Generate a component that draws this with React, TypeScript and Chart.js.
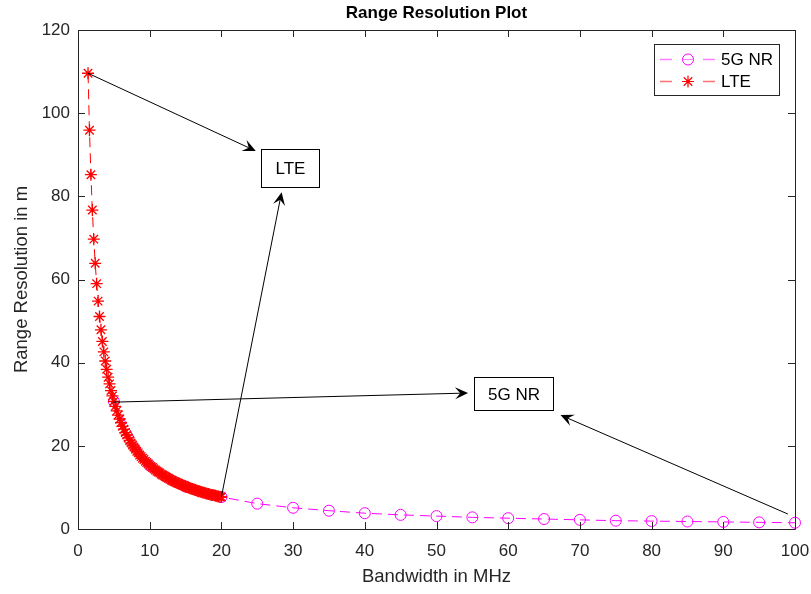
import React, { useEffect, useRef } from 'react';
import { Chart, registerables } from 'chart.js';

Chart.register(...registerables);

// ---------- data ----------
const lteBandwidth = [
  1.4, 1.6, 1.8, 2.0, 2.2, 2.4, 2.6, 2.8, 3.0, 3.2, 3.4, 3.6, 3.8, 4.0, 4.2, 4.4, 4.6, 4.8,
  5.0, 5.2, 5.4, 5.6, 5.8, 6.0, 6.2, 6.4, 6.6, 6.8, 7.0, 7.2, 7.4, 7.6, 7.8, 8.0, 8.2, 8.4,
  8.6, 8.8, 9.0, 9.2, 9.4, 9.6, 9.8, 10.0, 10.2, 10.4, 10.6, 10.8, 11.0, 11.2, 11.4, 11.6,
  11.8, 12.0, 12.2, 12.4, 12.6, 12.8, 13.0, 13.2, 13.4, 13.6, 13.8, 14.0, 14.2, 14.4, 14.6,
  14.8, 15.0, 15.2, 15.4, 15.6, 15.8, 16.0, 16.2, 16.4, 16.6, 16.8, 17.0, 17.2, 17.4, 17.6,
  17.8, 18.0, 18.2, 18.4, 18.6, 18.8, 19.0, 19.2, 19.4, 19.6, 19.8, 20.0,
];
const lteResolution = [
  109.6, 95.9, 85.2, 76.7, 69.7, 63.9, 59.0, 54.8, 51.1, 47.9, 45.1, 42.6, 40.4, 38.4, 36.5,
  34.9, 33.3, 32.0, 30.7, 29.5, 28.4, 27.4, 26.4, 25.6, 24.7, 24.0, 23.2, 22.6, 21.9, 21.3,
  20.7, 20.2, 19.7, 19.2, 18.7, 18.3, 17.8, 17.4, 17.0, 16.7, 16.3, 16.0, 15.7, 15.3, 15.0,
  14.8, 14.5, 14.2, 13.9, 13.7, 13.5, 13.2, 13.0, 12.8, 12.6, 12.4, 12.2, 12.0, 11.8, 11.6,
  11.4, 11.3, 11.1, 11.0, 10.8, 10.7, 10.5, 10.4, 10.2, 10.1, 10.0, 9.8, 9.7, 9.6, 9.5, 9.4,
  9.2, 9.1, 9.0, 8.9, 8.8, 8.7, 8.6, 8.5, 8.4, 8.3, 8.2, 8.2, 8.1, 8.0, 7.9, 7.8, 7.7, 7.7,
];
const nrBandwidth = [5, 10, 15, 20, 25, 30, 35, 40, 45, 50, 55, 60, 65, 70, 75, 80, 85, 90, 95, 100];
const nrResolution = [
  30.7, 15.3, 10.2, 7.7, 6.1, 5.1, 4.4, 3.8, 3.4, 3.1, 2.8, 2.6, 2.4, 2.2, 2.0, 1.9, 1.8, 1.7,
  1.6, 1.5,
];
const xTicks = [0, 10, 20, 30, 40, 50, 60, 70, 80, 90, 100];
const yTicks = [0, 20, 40, 60, 80, 100, 120];
const seriesNames = ['5G NR', 'LTE'];
const titleText = 'Range Resolution Plot';
const xTitle = 'Bandwidth in MHz';
const yTitle = 'Range Resolution in m';

// annotations in data coordinates
const arrowTails = [[1.4, 109.6], [20, 7.7], [4.85, 30.5], [99.0, 3.6]];
const arrowHeads = [[24.8, 90.9], [28.4, 81.0], [54.4, 32.7], [67.3, 27.4]];
const boxLabels = ['LTE', '5G NR'];
const boxXRanges = [[25.5, 33.6], [55.2, 66.3]];
const boxYRanges = [[82.3, 91.4], [28.6, 36.6]];

const AXIS_COLOR = '#262626';
const FONT = '"Liberation Sans", Arial, Helvetica, sans-serif';
const NR_COLOR = '#FF00FF';
const LTE_COLOR = '#FF0000';

function drawArrow(ctx: CanvasRenderingContext2D, x0: number, y0: number, x1: number, y1: number) {
  const dx = x1 - x0;
  const dy = y1 - y0;
  const len = Math.hypot(dx, dy);
  const ux = dx / len;
  const uy = dy / len;
  const nx = -uy;
  const ny = ux;
  const L = 13;
  const W = 6;
  ctx.save();
  ctx.strokeStyle = '#000';
  ctx.fillStyle = '#000';
  ctx.lineWidth = 1;
  ctx.beginPath();
  ctx.moveTo(x0, y0);
  ctx.lineTo(x1 - ux * L * 0.6, y1 - uy * L * 0.6);
  ctx.stroke();
  ctx.beginPath();
  ctx.moveTo(x1, y1);
  ctx.lineTo(x1 - ux * L + nx * W, y1 - uy * L + ny * W);
  ctx.lineTo(x1 - ux * L * 0.6, y1 - uy * L * 0.6);
  ctx.lineTo(x1 - ux * L - nx * W, y1 - uy * L - ny * W);
  ctx.closePath();
  ctx.fill();
  ctx.restore();
}

const decorPlugin = {
  id: 'matlabDecor',
  afterDatasetsDraw(chart: any) {
    const { ctx, chartArea, scales } = chart;
    const { left, right, top, bottom } = chartArea;
    const xs = scales.x;
    const ys = scales.y;
    ctx.save();

    // frame
    ctx.strokeStyle = AXIS_COLOR;
    ctx.lineWidth = 1;
    ctx.beginPath();
    ctx.rect(Math.round(left) + 0.5, Math.round(top) + 0.5, Math.round(right - left), Math.round(bottom - top));
    ctx.stroke();

    // inward ticks
    const tl = 7;
    ctx.beginPath();
    xTicks.forEach((t) => {
      const px = Math.round(xs.getPixelForValue(t)) + 0.5;
      ctx.moveTo(px, bottom);
      ctx.lineTo(px, bottom - tl);
      ctx.moveTo(px, top);
      ctx.lineTo(px, top + tl);
    });
    yTicks.forEach((t) => {
      const py = Math.round(ys.getPixelForValue(t)) + 0.5;
      ctx.moveTo(left, py);
      ctx.lineTo(left + tl, py);
      ctx.moveTo(right, py);
      ctx.lineTo(right - tl, py);
    });
    ctx.stroke();

    // title
    ctx.fillStyle = '#000';
    ctx.font = `bold 17px ${FONT}`;
    ctx.textAlign = 'center';
    ctx.textBaseline = 'middle';
    ctx.fillText(titleText, (left + right) / 2, 13);

    // axis titles
    ctx.fillStyle = AXIS_COLOR;
    ctx.font = `18.5px ${FONT}`;
    ctx.fillText(xTitle, (left + right) / 2, 577);
    ctx.save();
    ctx.translate(22, (top + bottom) / 2);
    ctx.rotate(-Math.PI / 2);
    ctx.fillText(yTitle, 0, 0);
    ctx.restore();

    // arrows
    arrowTails.forEach((tail, i) => {
      const head = arrowHeads[i];
      drawArrow(
        ctx,
        xs.getPixelForValue(tail[0]),
        ys.getPixelForValue(tail[1]),
        xs.getPixelForValue(head[0]),
        ys.getPixelForValue(head[1])
      );
    });

    // text boxes
    boxLabels.forEach((label, i) => {
      const x0 = Math.round(xs.getPixelForValue(boxXRanges[i][0])) + 0.5;
      const x1 = Math.round(xs.getPixelForValue(boxXRanges[i][1])) + 0.5;
      const y0 = Math.round(ys.getPixelForValue(boxYRanges[i][1])) + 0.5;
      const y1 = Math.round(ys.getPixelForValue(boxYRanges[i][0])) + 0.5;
      ctx.fillStyle = '#fff';
      ctx.fillRect(x0, y0, x1 - x0, y1 - y0);
      ctx.strokeStyle = '#000';
      ctx.lineWidth = 1;
      ctx.strokeRect(x0, y0, x1 - x0, y1 - y0);
      ctx.fillStyle = '#000';
      ctx.font = `17px ${FONT}`;
      ctx.textAlign = 'center';
      ctx.textBaseline = 'middle';
      ctx.fillText(label, (x0 + x1) / 2, (y0 + y1) / 2 + 1);
    });

    // legend
    const lx0 = 654.5;
    const ly0 = 44.5;
    const lw = 125;
    const lh = 51;
    ctx.fillStyle = '#fff';
    ctx.fillRect(lx0, ly0, lw, lh);
    ctx.strokeStyle = AXIS_COLOR;
    ctx.lineWidth = 1;
    ctx.strokeRect(lx0, ly0, lw, lh);
    const rows = [59, 81];
    const lineColors = ['#FF80FF', '#FF7070'];
    const colors = [NR_COLOR, LTE_COLOR];
    rows.forEach((ry, i) => {
      const cy = ry + 0.5;
      ctx.strokeStyle = lineColors[i];
      ctx.lineWidth = 1.5;
      ctx.beginPath();
      ctx.moveTo(660, cy);
      ctx.lineTo(672, cy);
      ctx.moveTo(703, cy);
      ctx.lineTo(715, cy);
      ctx.stroke();
      const mx = 688;
      ctx.strokeStyle = colors[i];
      ctx.lineWidth = 1;
      if (i === 0) {
        ctx.beginPath();
        ctx.arc(mx, cy, 5.5, 0, Math.PI * 2);
        ctx.stroke();
        ctx.strokeStyle = lineColors[i];
        ctx.beginPath();
        ctx.moveTo(mx - 5, cy);
        ctx.lineTo(mx + 5, cy);
        ctx.stroke();
      } else {
        const r = 6;
        ctx.lineWidth = 1.2;
        ctx.beginPath();
        ctx.moveTo(mx - r, cy);
        ctx.lineTo(mx + r, cy);
        ctx.moveTo(mx, cy - r);
        ctx.lineTo(mx, cy + r);
        const d = r * Math.SQRT1_2;
        ctx.moveTo(mx - d, cy - d);
        ctx.lineTo(mx + d, cy + d);
        ctx.moveTo(mx - d, cy + d);
        ctx.lineTo(mx + d, cy - d);
        ctx.stroke();
      }
      ctx.fillStyle = '#000';
      ctx.font = `17px ${FONT}`;
      ctx.textAlign = 'left';
      ctx.textBaseline = 'middle';
      ctx.fillText(seriesNames[i], 721, ry + 1);
    });

    ctx.restore();
  },
};

export default function App() {
  const canvasRef = useRef<HTMLCanvasElement | null>(null);

  useEffect(() => {
    document.body.style.margin = '0';
    const canvas = canvasRef.current;
    if (!canvas) return;
    const chart = new Chart(canvas, {
      type: 'scatter',
      data: {
        datasets: [
          {
            label: seriesNames[0],
            data: nrBandwidth.map((x, i) => ({ x, y: nrResolution[i] })),
            showLine: true,
            borderColor: NR_COLOR,
            borderWidth: 1,
            borderDash: [10, 6],
            pointStyle: 'circle',
            pointRadius: 5.5,
            pointBorderWidth: 1,
            pointBorderColor: NR_COLOR,
            pointBackgroundColor: 'rgba(0,0,0,0)',
            clip: false as any,
            order: 2,
          },
          {
            label: seriesNames[1],
            data: lteBandwidth.map((x, i) => ({ x, y: lteResolution[i] })),
            showLine: true,
            borderColor: LTE_COLOR,
            borderWidth: 1,
            borderDash: [10, 6],
            pointStyle: 'star',
            pointRadius: 6,
            pointBorderWidth: 1.3,
            pointBorderColor: LTE_COLOR,
            pointBackgroundColor: LTE_COLOR,
            clip: false as any,
            order: 1,
          },
        ],
      },
      options: {
        animation: false,
        responsive: false,
        devicePixelRatio: 1,
        layout: { padding: { top: 30, right: 16, left: 0, bottom: 0 } },
        plugins: {
          legend: { display: false },
          tooltip: { enabled: false },
          title: { display: false },
        },
        scales: {
          x: {
            type: 'linear',
            min: 0,
            max: 100,
            afterBuildTicks: (scale: any) => {
              scale.ticks = xTicks.map((v) => ({ value: v }));
            },
            ticks: {
              color: AXIS_COLOR,
              font: { family: FONT, size: 17 },
              padding: 12,
              maxRotation: 0,
            },
            grid: { display: false, drawTicks: false },
            border: { display: false },
            afterFit: (scale: any) => {
              scale.height = 65;
              scale.paddingLeft = 0;
              scale.paddingRight = 0;
            },
          },
          y: {
            type: 'linear',
            min: 0,
            max: 120,
            afterBuildTicks: (scale: any) => {
              scale.ticks = yTicks.map((v) => ({ value: v }));
            },
            ticks: {
              color: AXIS_COLOR,
              font: { family: FONT, size: 17 },
              padding: 8,
            },
            grid: { display: false, drawTicks: false },
            border: { display: false },
            afterFit: (scale: any) => {
              scale.width = 78;
              scale.paddingTop = 0;
              scale.paddingBottom = 0;
            },
          },
        },
      },
      plugins: [decorPlugin],
    });
    return () => chart.destroy();
  }, []);

  return (
    <canvas
      ref={canvasRef}
      width={811}
      height={594}
      style={{ display: 'block', width: 811, height: 594 }}
    />
  );
}
